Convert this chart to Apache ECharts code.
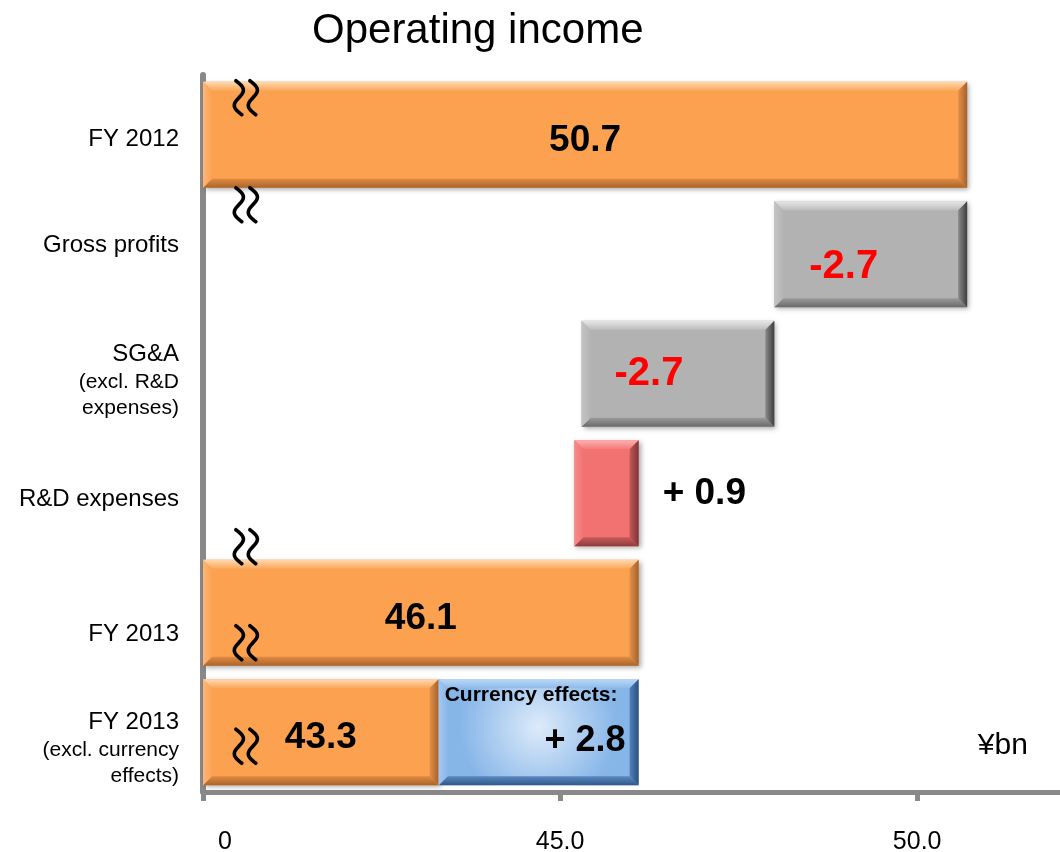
<!DOCTYPE html>
<html>
<head>
<meta charset="utf-8">
<title>Operating income</title>
<script src="https://cdn.jsdelivr.net/npm/echarts@6/dist/echarts.min.js"></script>
<style>
  html, body { margin: 0; padding: 0; background: #ffffff; }
  #chart { width: 1060px; height: 852px; }
</style>
</head>
<body>
<div id="chart"></div>
<script>
// ---- data -------------------------------------------------------------
const categories = [
  'FY 2012',
  'Gross profits',
  'SG&A\n(excl. R&D\nexpenses)',
  'R&D expenses',
  'FY 2013',
  'FY 2013\n(excl. currency\neffects)'
];

// broken value axis: its origin stands for 0, then it runs 45.0 .. 52
const axisOrigin = 40;
const axisEnd = 52;
const axisStep = 5;
const axisTickValues = [40, 45, 50];
const axisTickLabels = ['0', '45.0', '50.0'];

// full-length results (drawn from the axis origin)
const totalRows = [0, 4, 5];
const totalValues = [50.7, 46.1, 43.3];

// waterfall steps: where each step starts and how much it moves
const stepRows = [1, 2, 3];
const stepStarts = [50.7, 48.0, 45.2];
const stepValues = [-2.7, -2.7, 0.9];

// currency effect stacked onto the last total
const currencyRow = 5;
const currencyValue = 2.8;
const currencyTitle = 'Currency effects:';

const unitLabel = '¥bn';

// ---- look -------------------------------------------------------------
const FONT = '"Liberation Sans", Arial, Helvetica, sans-serif';
const AXIS_GREY = '#898989';
const BAR_FRACTION = 0.887;
const TEXT_DROP = 3; // bold figures sit a little low in their bars

function lin(x0, y0, x1, y1, c0, c1) {
  return new echarts.graphic.LinearGradient(x0, y0, x1, y1, [
    { offset: 0, color: c0 }, { offset: 1, color: c1 }
  ]);
}

const palettes = {
  orange: {
    face: '#FBA150',
    top: ['#FFD9B0', '#FBA75A'], bottom: ['#E08B40', '#A9652C'],
    left: ['#FDB676', '#FBA252'], right: ['#E2904A', '#A5612A']
  },
  grey: {
    face: '#B2B2B2',
    top: ['#E6E6E6', '#BDBDBD'], bottom: ['#9A9A9A', '#6A6A6A'],
    left: ['#C4C4C4', '#B4B4B4'], right: ['#8A8A8A', '#3E3E3E']
  },
  red: {
    face: '#F27171',
    top: ['#FBB0B0', '#F47A7A'], bottom: ['#C85A5A', '#8F3C3C'],
    left: ['#F68A8A', '#F27474'], right: ['#C45757', '#7E3434']
  },
  blue: {
    face: new echarts.graphic.RadialGradient(0.5, 0.45, 0.75, [
      { offset: 0, color: '#DDEBFA' }, { offset: 1, color: '#86B5E8' }
    ]),
    top: ['#BCD8F5', '#8DBAEB'], bottom: ['#5A88C0', '#30598A'],
    left: ['#A3C8EF', '#8AB6E9'], right: ['#5080B8', '#2A5082']
  }
};

// bevelled 3D-looking bar between two value positions on one category row
function bevelBar(x0, x1, yc, h, pal) {
  const y0 = yc - h / 2, y1 = yc + h / 2;
  const b = Math.min(9, (x1 - x0) / 4, h / 4);
  return [
    { type: 'rect', shape: { x: x0, y: y0, width: x1 - x0, height: h },
      style: { fill: pal.face, shadowBlur: 5, shadowOffsetX: 2, shadowOffsetY: 2, shadowColor: 'rgba(0,0,0,0.35)' } },
    { type: 'polygon', shape: { points: [[x0, y0], [x1, y0], [x1 - b, y0 + b], [x0 + b, y0 + b]] },
      style: { fill: lin(0, 0, 0, 1, pal.top[0], pal.top[1]) } },
    { type: 'polygon', shape: { points: [[x0, y1], [x1, y1], [x1 - b, y1 - b], [x0 + b, y1 - b]] },
      style: { fill: lin(0, 0, 0, 1, pal.bottom[0], pal.bottom[1]) } },
    { type: 'polygon', shape: { points: [[x0, y0], [x0 + b, y0 + b], [x0 + b, y1 - b], [x0, y1]] },
      style: { fill: lin(0, 0, 1, 0, pal.left[0], pal.left[1]) } },
    { type: 'polygon', shape: { points: [[x1, y0], [x1 - b, y0 + b], [x1 - b, y1 - b], [x1, y1]] },
      style: { fill: lin(0, 0, 1, 0, pal.right[0], pal.right[1]) } }
  ];
}

function textEl(text, x, y, align, size, color) {
  return {
    type: 'text',
    style: {
      text: text, x: x, y: y + TEXT_DROP,
      align: align, textAlign: align,
      verticalAlign: 'middle', textVerticalAlign: 'middle',
      font: 'bold ' + size + 'px ' + FONT,
      fill: color
    }
  };
}

function barGeometry(api) {
  const row = api.value(0);
  const a = api.coord([api.value(1), row]);
  const b = api.coord([api.value(2), row]);
  const h = api.size([0, 1])[1] * BAR_FRACTION;
  return { x0: Math.min(a[0], b[0]), x1: Math.max(a[0], b[0]), yc: a[1], h: h };
}

// label placement for the step rows (pixel nudges relative to the bar)
const stepLabelNudge = [[-27, 10], [-29, -3], [24, -2]];

function renderTotal(params, api) {
  const g = barGeometry(api);
  const children = bevelBar(g.x0, g.x1, g.yc, g.h, palettes.orange);
  children.push(textEl(api.value(2).toFixed(1), (g.x0 + g.x1) / 2, g.yc + 3, 'center', 37, '#000'));
  return { type: 'group', children: children };
}

function renderStep(params, api) {
  const g = barGeometry(api);
  const delta = api.value(2) - api.value(1);
  const rising = delta > 0;
  const children = bevelBar(g.x0, g.x1, g.yc, g.h, rising ? palettes.red : palettes.grey);
  const nudge = stepLabelNudge[params.dataIndex];
  const amount = stepValues[params.dataIndex];
  if (rising) {
    children.push(textEl('+ ' + amount.toFixed(1), g.x1 + nudge[0], g.yc + nudge[1], 'left', 37, '#000'));
  } else {
    children.push(textEl(amount.toFixed(1), (g.x0 + g.x1) / 2 + nudge[0], g.yc + nudge[1], 'center', 40, '#FF0000'));
  }
  return { type: 'group', children: children };
}

function renderCurrency(params, api) {
  const g = barGeometry(api);
  const children = bevelBar(g.x0, g.x1, g.yc, g.h, palettes.blue);
  children.push(textEl(currencyTitle, g.x0 + 6, g.yc - g.h / 2 + 13, 'left', 21, '#000'));
  children.push(textEl('+ ' + currencyValue.toFixed(1), g.x1 - 13, g.yc + 6, 'right', 36, '#000'));
  return { type: 'group', children: children };
}

// ---- series data built from the arrays above -------------------------
const totalData = totalRows.map((r, i) => [r, axisOrigin, totalValues[i]]);
const stepData = stepRows.map((r, i) => [r, stepStarts[i], +(stepStarts[i] + stepValues[i]).toFixed(2)]);
const currencyIdx = totalRows.indexOf(currencyRow);
const currencyBase = totalValues[currencyIdx];
const currencyData = [[currencyRow, currencyBase, +(currencyBase + currencyValue).toFixed(2)]];

// row captions sit a little off their row centres (px, + = down)
const captionShift = [5, -9, 7, 6, 22, 16];
const captionRich = {
  m: { fontFamily: FONT, fontSize: 24, lineHeight: 29, color: '#000', align: 'right' },
  s: { fontFamily: FONT, fontSize: 21, lineHeight: 26, color: '#000', align: 'right' }
};
captionShift.forEach((d, i) => {
  captionRich['g' + i] = { fontSize: 1, lineHeight: Math.abs(2 * d), color: 'rgba(0,0,0,0)' };
});

function categoryLabel(value, index) {
  const body = value.split('\n').map((line, i) => (i === 0 ? '{m|' : '{s|') + line + '}').join('\n');
  const d = captionShift[index] || 0;
  if (d > 0) return '{g' + index + '| }\n' + body;
  if (d < 0) return body + '\n{g' + index + '| }';
  return body;
}

function tickLabel(value) {
  const i = axisTickValues.indexOf(value);
  if (i < 0) return '';
  return value === axisOrigin ? '{o|' + axisTickLabels[i] + '}' : axisTickLabels[i];
}

const chart = echarts.init(document.getElementById('chart'), null, { renderer: 'canvas' });

chart.setOption({
  backgroundColor: '#ffffff',
  animation: false,
  title: {
    text: 'Operating income',
    left: 307,
    top: 5,
    textStyle: { fontFamily: FONT, fontSize: 42, fontWeight: 'normal', color: '#000' }
  },
  grid: { left: 203, right: 0, top: 75, bottom: 60, containLabel: false, outerBoundsMode: 'none' },
  xAxis: {
    type: 'value',
    min: axisOrigin,
    max: axisEnd,
    interval: axisStep,
    axisLine: { show: true, lineStyle: { color: AXIS_GREY, width: 5 } },
    axisTick: { show: true, length: 9, lineStyle: { color: AXIS_GREY, width: 5 } },
    splitLine: { show: false },
    axisLabel: {
      formatter: tickLabel,
      showMaxLabel: false,
      margin: 38,
      fontFamily: FONT,
      fontSize: 25,
      color: '#000',
      rich: { o: { fontFamily: FONT, fontSize: 25, color: '#000', padding: [0, 0, 0, 44] } }
    }
  },
  yAxis: {
    type: 'category',
    data: categories,
    inverse: true,
    axisLine: { show: true, lineStyle: { color: AXIS_GREY, width: 6 } },
    axisTick: { show: false },
    splitLine: { show: false },
    axisLabel: {
      interval: 0,
      margin: 24,
      align: 'right',
      formatter: categoryLabel,
      rich: captionRich
    }
  },
  series: [
    { type: 'custom', name: 'totals', renderItem: renderTotal, encode: { x: [1, 2], y: 0 }, data: totalData, z: 2 },
    { type: 'custom', name: 'steps', renderItem: renderStep, encode: { x: [1, 2], y: 0 }, data: stepData, z: 2 },
    { type: 'custom', name: 'currency', renderItem: renderCurrency, encode: { x: [1, 2], y: 0 }, data: currencyData, z: 2 }
  ]
});

// axis-break marks: two upright wave strokes (a turned "≈") over the cut axis
const breakMarkValue = 40.6;
const breakMarkSpots = [[0, -37], [0, 70], [4, -66], [4, 30], [5, 14]]; // row, pixel shift from row centre

function waveStroke(cx, cy) {
  const half = 17, amp = 6, tilt = 3, pts = [];
  for (let k = 0; k <= 24; k++) {
    const t = -1 + k / 12;                       // -1 .. 1 from top to bottom
    pts.push([cx - amp * Math.sin(Math.PI * t) + tilt * t, cy + half * t]);
  }
  return {
    type: 'polyline', z: 10,
    shape: { points: pts, smooth: 0 },
    style: { stroke: '#000', lineWidth: 3.6, fill: null, lineCap: 'round', lineJoin: 'round' }
  };
}

const decorations = [];
breakMarkSpots.forEach(([row, dy]) => {
  const p = chart.convertToPixel({ gridIndex: 0 }, [breakMarkValue, row]);
  decorations.push(waveStroke(p[0] - 7, p[1] + dy), waveStroke(p[0] + 7, p[1] + dy));
});

const unitPos = chart.convertToPixel({ gridIndex: 0 }, [51.2, currencyRow]);
decorations.push({
  type: 'text', z: 10,
  style: { text: unitLabel, x: unitPos[0], y: unitPos[1] + 13, align: 'center', verticalAlign: 'middle',
           textAlign: 'center', textVerticalAlign: 'middle', font: '30px ' + FONT, fill: '#000' }
});

chart.setOption({ graphic: { elements: decorations } });
</script>
</body>
</html>
